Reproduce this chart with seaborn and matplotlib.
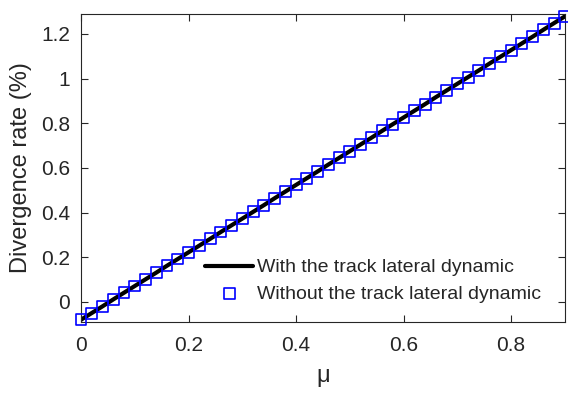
import matplotlib
matplotlib.use("Agg")
import matplotlib.pyplot as plt
import seaborn as sns
import pandas as pd

# data
mu = [0.00, 0.02, 0.04, 0.06, 0.08, 0.10, 0.12, 0.14, 0.16, 0.18,
      0.20, 0.22, 0.24, 0.26, 0.28, 0.30, 0.32, 0.34, 0.36, 0.38,
      0.40, 0.42, 0.44, 0.46, 0.48, 0.50, 0.52, 0.54, 0.56, 0.58,
      0.60, 0.62, 0.64, 0.66, 0.68, 0.70, 0.72, 0.74, 0.76, 0.78,
      0.80, 0.82, 0.84, 0.86, 0.88, 0.90]
rate_with = [-0.080, -0.050, -0.020, 0.011, 0.041, 0.071, 0.101, 0.131, 0.162, 0.192,
             0.222, 0.252, 0.282, 0.313, 0.343, 0.373, 0.403, 0.433, 0.464, 0.494,
             0.524, 0.554, 0.584, 0.615, 0.645, 0.675, 0.705, 0.735, 0.766, 0.796,
             0.826, 0.856, 0.886, 0.917, 0.947, 0.977, 1.007, 1.037, 1.068, 1.098,
             1.128, 1.158, 1.188, 1.219, 1.249, 1.279]
rate_without = [-0.080, -0.050, -0.020, 0.011, 0.041, 0.071, 0.101, 0.131, 0.162, 0.192,
                0.222, 0.252, 0.282, 0.313, 0.343, 0.373, 0.403, 0.433, 0.464, 0.494,
                0.524, 0.554, 0.584, 0.615, 0.645, 0.675, 0.705, 0.735, 0.766, 0.796,
                0.826, 0.856, 0.886, 0.917, 0.947, 0.977, 1.007, 1.037, 1.068, 1.098,
                1.128, 1.158, 1.188, 1.219, 1.249, 1.279]
xticks = [0, 0.2, 0.4, 0.6, 0.8]
yticks = [0, 0.2, 0.4, 0.6, 0.8, 1.0, 1.2]
yticklabels = ["0", "0.2", "0.4", "0.6", "0.8", "1", "1.2"]
xticklabels = ["0", "0.2", "0.4", "0.6", "0.8"]

sns.set_style("white")
plt.rcParams['font.family'] = ['Liberation Sans', 'DejaVu Sans']

df = pd.DataFrame({'mu': mu, 'with': rate_with, 'without': rate_without})

fig = plt.figure(figsize=(5.68, 3.97), dpi=100)
ax = fig.add_axes([0.1426, 0.189, 0.852, 0.776])

sns.lineplot(data=df, x='mu', y='with', ax=ax, color='black', linewidth=3,
             label='With the track lateral dynamic', zorder=2)
sns.scatterplot(data=df, x='mu', y='without', ax=ax, marker='s', s=62,
                facecolor='none', edgecolor='#0000ff', linewidth=1.2,
                label='Without the track lateral dynamic', zorder=3, clip_on=False)

ax.set_xlim(0, 0.9)
ax.set_ylim(-0.09, 1.29)
ax.set_xticks(xticks)
ax.set_xticklabels(xticklabels)
ax.set_yticks(yticks)
ax.set_yticklabels(yticklabels)
ax.tick_params(direction='in', length=5, width=0.8, color='#262626',
               labelsize=15, labelcolor='#262626', top=True, right=True,
               bottom=True, left=True)
ax.tick_params(axis='x', pad=10)
ax.tick_params(axis='y', pad=8)
for s in ax.spines.values():
    s.set_color('#262626')
    s.set_linewidth(0.8)
ax.set_xlabel('μ', fontsize=17, color='#262626', labelpad=7)
ax.set_ylabel('Divergence rate (%)', fontsize=17, color='#262626', labelpad=6)

ax.legend(loc='center left', bbox_to_anchor=(0.256, 0.134), frameon=False,
          fontsize=14, handlelength=2.5, handletextpad=0.2, labelspacing=0.45,
          borderaxespad=0, borderpad=0)

fig.savefig('out.png', dpi=100)
